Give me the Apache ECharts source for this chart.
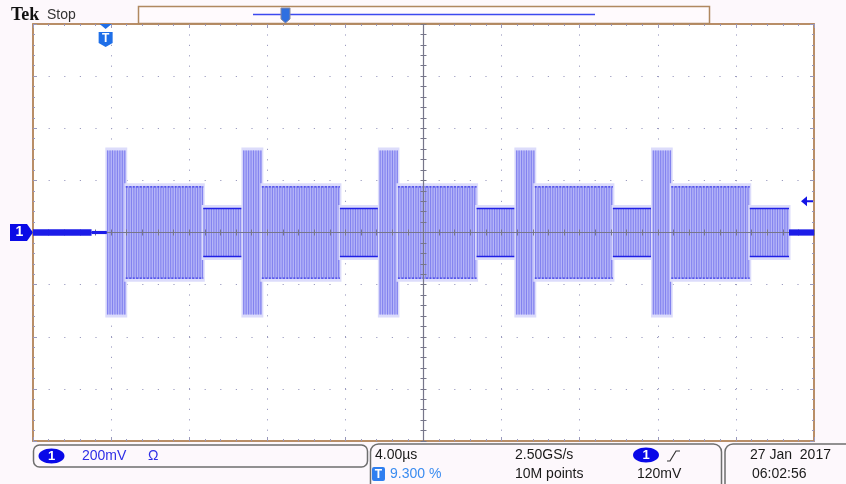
<!DOCTYPE html>
<html><head><meta charset="utf-8">
<script src="https://cdn.jsdelivr.net/npm/echarts@6.0.0/dist/echarts.min.js"></script>
<style>html,body{margin:0;padding:0;background:#fdf8fc}#c{width:846px;height:484px}</style>
</head><body><div id="c"></div>
<script>
// Screen time axis in µs (4.00 µs/div, 10 divs) and voltage axis in mV (200 mV/div, 8 divs)
const timeMin = 0, timeMax = 40, timeDiv = 4;
const voltMin = -800, voltMax = 800, voltDiv = 200;
// Markers
const groundLevel = 0;      // channel 1 reference
const triggerTime = 3.72;   // 9.300 % of record
const triggerLevel = 120;   // mV
// Waveform envelope segments read from the screen
const segStart = [0, 3.0, 3.78, 4.75, 8.72, 10.75, 11.72, 15.72, 17.74, 18.69, 22.72, 24.73, 25.70, 29.70, 31.73, 32.69, 36.71, 38.72];
const segEnd   = [3.0, 3.78, 4.75, 8.72, 10.75, 11.72, 15.72, 17.74, 18.69, 22.72, 24.73, 25.70, 29.70, 31.73, 32.69, 36.71, 38.72, 40];
const segAmp   = [12, 6, 315, 177, 94, 315, 177, 94, 315, 177, 94, 315, 177, 94, 315, 177, 94, 12];
const segKind  = ['noise','noise','tall','mid','low','tall','mid','low','tall','mid','low','tall','mid','low','tall','mid','low','noise'];
const kindCode = {noise:0, tall:1, mid:2, low:3};

const segData = segStart.map((s, i) => [s, segEnd[i], segAmp[i], kindCode[segKind[i]]]);
const burstData = segData.filter(d => d[3] !== 0);
const noiseData = segData.filter(d => d[3] === 0);

function renderSeg(params, api) {
  const t0 = api.value(0), t1 = api.value(1), a = api.value(2), k = api.value(3);
  const p0 = api.coord([t0, a]), p1 = api.coord([t1, -a]);
  const x0 = p0[0], x1 = p1[0], yT = p0[1], yB = p1[1];
  const w = x1 - x0, h = yB - yT;
  const ch = [];
  if (k === 0) {
    ch.push({type:'rect', shape:{x:x0, y:yT, width:w, height:h}, style:{fill:'#1c1ce8'}});
  } else {
    ch.push({type:'rect', shape:{x:x0-1.5, y:yT-3, width:w+3, height:h+6}, style:{fill:'#dcdcfb'}});
    ch.push({type:'rect', shape:{x:x0, y:yT, width:w, height:h}, style:{fill:'#b6b6f8'}});
    for (let x = x0 + 0.8; x < x1; x += 2.45) {
      ch.push({type:'line', shape:{x1:x, y1:yT, x2:x, y2:yB}, style:{stroke:'#8282ef', lineWidth:1.1}});
    }
    if (k === 2) {
      ch.push({type:'line', shape:{x1:x0, y1:yT+0.5, x2:x1, y2:yT+0.5}, style:{stroke:'#3a3ae8', lineWidth:1.2, lineDash:[2,1.5]}});
      ch.push({type:'line', shape:{x1:x0, y1:yB-0.5, x2:x1, y2:yB-0.5}, style:{stroke:'#3a3ae8', lineWidth:1.2, lineDash:[2,1.5]}});
    } else if (k === 3) {
      ch.push({type:'line', shape:{x1:x0, y1:yT+0.5, x2:x1, y2:yT+0.5}, style:{stroke:'#2020e6', lineWidth:1.6}});
      ch.push({type:'line', shape:{x1:x0, y1:yB-0.5, x2:x1, y2:yB-0.5}, style:{stroke:'#2020e6', lineWidth:1.6}});
    }
  }
  return {type:'group', children: ch};
}

const tickColor = '#9898bc';
const gridDot = '#9c9cc0';
const centerColor = '#76768a';
const borderColor = '#b4875e';

function borderX(pos) {
  return {type:'value', min:timeMin, max:timeMax, interval:timeDiv, position:pos,
    axisLine:{show:true, onZero:false, lineStyle:{color:borderColor, width:1.5}}, axisLabel:{show:false},
    axisTick:{show:true, inside:true, length:4, lineStyle:{color:tickColor}},
    minorTick:{show:true, splitNumber:5, length:2, lineStyle:{color:tickColor}},
    splitLine:{show:pos === 'bottom', lineStyle:{color:gridDot, width:1, type:[1.2, 9.2]}}};
}
function borderY(pos) {
  return {type:'value', min:voltMin, max:voltMax, interval:voltDiv, position:pos,
    axisLine:{show:true, onZero:false, lineStyle:{color:borderColor, width:1.5}}, axisLabel:{show:false},
    axisTick:{show:true, inside:true, length:4, lineStyle:{color:tickColor}},
    minorTick:{show:true, splitNumber:5, length:2, lineStyle:{color:tickColor}},
    splitLine:{show:pos === 'left', lineStyle:{color:gridDot, width:1, type:[1.2, 14.4]}}};
}
function centerX(inside, showLine) {
  return {type:'value', min:-(timeMax-timeMin)/2, max:(timeMax-timeMin)/2, interval:timeDiv, z:10,
    axisLine:{show:showLine, onZero:true, onZeroAxisIndex:0, lineStyle:{color:centerColor, width:1}},
    axisLabel:{show:false}, splitLine:{show:false},
    axisTick:{show:true, inside:inside, length:3, lineStyle:{color:centerColor}},
    minorTick:{show:true, splitNumber:5, length:3, lineStyle:{color:centerColor}}};
}
function centerY(inside, showLine) {
  return {type:'value', min:voltMin, max:voltMax, interval:voltDiv, z:10,
    axisLine:{show:showLine, onZero:true, onZeroAxisIndex:2, lineStyle:{color:centerColor, width:1.2}},
    axisLabel:{show:false}, splitLine:{show:false},
    axisTick:{show:true, inside:inside, length:3, lineStyle:{color:centerColor}},
    minorTick:{show:true, splitNumber:5, length:3, lineStyle:{color:centerColor}}};
}

const FONT = '"Liberation Sans", Arial, sans-serif';
function txt(x, y, s, fill, size, extra) {
  return {type:'text', x:x, y:y, z:30, style:Object.assign({text:s, fill:fill, font:(size||14)+'px ' + FONT, verticalAlign:'middle'}, extra||{})};
}

const chart = echarts.init(document.getElementById('c'), null, {renderer:'canvas'});
chart.setOption({
  animation:false,
  backgroundColor:'#fdf8fc',
  grid:{left:33, top:24, width:781, height:417, show:true, backgroundColor:'#ffffff', borderColor:borderColor, borderWidth:1.5},
  xAxis:[borderX('bottom'), borderX('top'), centerX(true, true), centerX(false, false)],
  yAxis:[borderY('left'), borderY('right'), centerY(true, true), centerY(false, false)],
  series:[
    {type:'custom', xAxisIndex:0, yAxisIndex:0, renderItem:renderSeg, data:burstData,
     encode:{x:[0,1], y:[2]}, clip:true, silent:true, z:2},
    {type:'custom', xAxisIndex:0, yAxisIndex:0, renderItem:renderSeg, data:noiseData,
     encode:{x:[0,1], y:[2]}, clip:true, silent:true, z:12},
    {type:'line', xAxisIndex:0, yAxisIndex:0, data:[], silent:true, z:15,
     markPoint:{silent:true, data:[
       {coord:[timeMin, groundLevel], symbol:'path://M0,0 L17,0 L23,8.5 L17,17 L0,17 Z', symbolSize:[23,17], symbolOffset:[-11.5,0], symbolKeepAspect:false,
        itemStyle:{color:'#0a0ae6'}, label:{show:true, formatter:'1', color:'#fff', fontWeight:'bold', fontSize:14, fontFamily:'Liberation Sans', offset:[-2,0]}},
       {coord:[triggerTime, voltMax], symbol:'path://M1,0 L13,0 L7,5 Z M0,8 L14,8 L14,19 L7,23 L0,19 Z', symbolSize:[14,23], symbolOffset:[0,11.5], symbolKeepAspect:false,
        itemStyle:{color:'#1f6fe8'}, label:{show:true, formatter:'T', color:'#fff', fontWeight:'bold', fontSize:12, fontFamily:'Liberation Sans', offset:[0,3]}},
       {coord:[timeMax, triggerLevel], symbol:'path://M0,5 L6,0 L6,4 L12,4 L12,6 L6,6 L6,10 Z', symbolSize:[12,10], symbolOffset:[-7,0], symbolKeepAspect:false,
        itemStyle:{color:'#1414e6'}, label:{show:false}}
     ]}}
  ],
  graphic:[
    txt(11, 15, 'Tek', '#111', 18, {font:'bold 18px "Liberation Serif", serif'}),
    txt(47, 15, 'Stop', '#333', 14),
    {type:'rect', z:20, shape:{x:138.5, y:6.5, width:571, height:17}, style:{fill:'#fffafd', stroke:'#b08860', lineWidth:1.5}},
    {type:'line', z:21, shape:{x1:253, y1:14.5, x2:595, y2:14.5}, style:{stroke:'#3c48f0', lineWidth:1.5}},
    {type:'polygon', z:22, shape:{points:[[281,8],[290,8],[290,19],[285.5,23],[281,19]]}, style:{fill:'#2f6fe0', stroke:'#8a8aa0', lineWidth:1}},
    // bottom panels
    {type:'rect', z:20, shape:{x:33.5, y:445, width:334, height:22, r:6}, style:{fill:'none', stroke:'#6e6e6e', lineWidth:1.5}},
    {type:'ellipse', z:21, shape:{cx:51.5, cy:456, rx:13, ry:7.5}, style:{fill:'#0808e8'}},
    txt(51.5, 456.5, '1', '#fff', 13, {font:'bold 13px ' + FONT, align:'center'}),
    txt(82, 456, '200mV', '#2e2ee6', 14),
    txt(148, 456, 'Ω', '#2e2ee6', 14),
    {type:'rect', z:20, shape:{x:370.5, y:444, width:351, height:52, r:8}, style:{fill:'none', stroke:'#6e6e6e', lineWidth:1.5}},
    {type:'rect', z:20, shape:{x:725, y:444, width:130, height:52, r:8}, style:{fill:'none', stroke:'#6e6e6e', lineWidth:1.5}},
    txt(375, 455, '4.00µs', '#1a1a1a', 14),
    {type:'rect', z:21, shape:{x:372, y:467, width:13, height:14, r:2}, style:{fill:'#2f7ff0'}},
    txt(378.5, 474.5, 'T', '#fff', 12, {font:'bold 12px ' + FONT, align:'center'}),
    txt(390, 474, '9.300 %', '#3a8cf0', 14),
    txt(515, 455, '2.50GS/s', '#1a1a1a', 14),
    txt(515, 474, '10M points', '#1a1a1a', 14),
    {type:'ellipse', z:21, shape:{cx:646, cy:455, rx:13, ry:7.5}, style:{fill:'#0808e8'}},
    txt(646, 455.5, '1', '#fff', 13, {font:'bold 13px ' + FONT, align:'center'}),
    {type:'polyline', z:21, shape:{points:[[667,461],[670,461],[676,451],[680,451]]}, style:{stroke:'#333', lineWidth:1.2, fill:'none'}},
    txt(637, 474, '120mV', '#1a1a1a', 14),
    txt(750, 455, '27 Jan  2017', '#1a1a1a', 14),
    txt(752, 474, '06:02:56', '#1a1a1a', 14)
  ]
});
</script></body></html>
